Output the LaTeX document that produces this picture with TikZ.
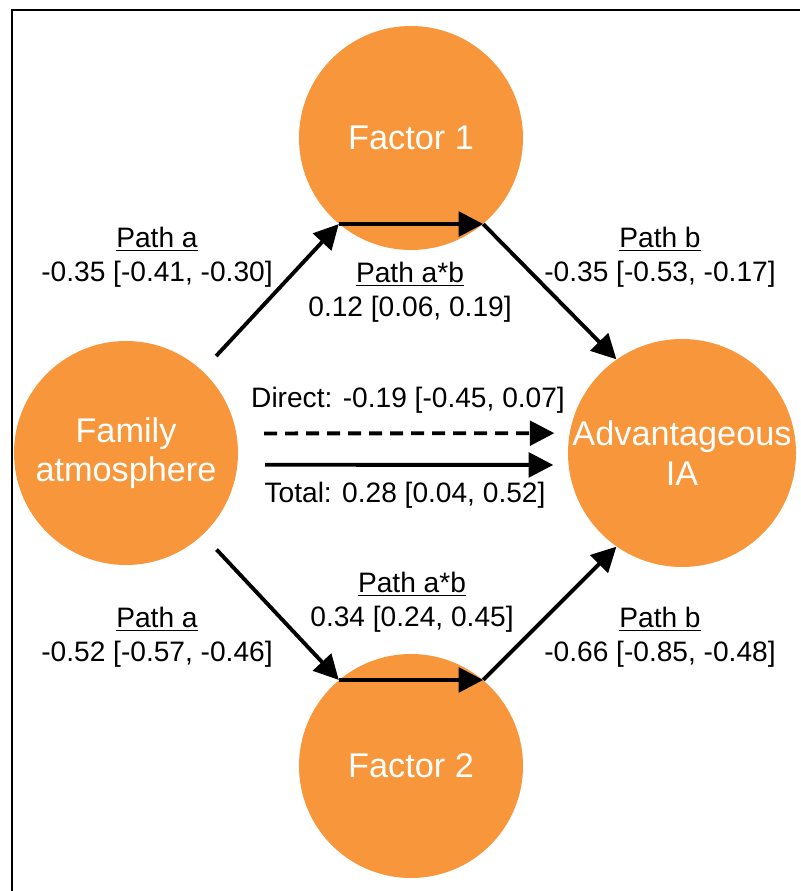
\documentclass[tikz,border=0pt]{standalone}
\usepackage{fontspec}
\setmainfont{Liberation Sans}
\usepackage{tikz}
\usetikzlibrary{arrows.meta}
\definecolor{factorOrange}{RGB}{247,150,58}

\begin{document}
\begin{tikzpicture}[
  factor/.style={circle, fill=factorOrange, minimum size=4.48cm, inner sep=0pt,
    text=white, align=center, font=\fontsize{19.5}{22.5}\selectfont},
  effect/.style={align=center, font=\fontsize{16}{19.5}\selectfont},
  arr/.style={-{Triangle[length=14pt,width=14pt]}, line width=2.2pt},
]

\useasboundingbox (0,0) rectangle (16,-17.82);

% frame (top and left only)
\draw[line width=1.6pt] (0.24,-17.82) -- (0.24,-0.2) -- (16,-0.2);

% factors
\node[factor] (fam) at (2.52,-9.06) {Family\\atmosphere};
\node[factor] (f1) at (8.22,-2.76) {Factor 1};
\node[factor] (f2) at (8.22,-15.32) {Factor 2};
\node[factor] (adv) at (13.64,-9.06) {Advantageous\\IA};


% upper path
\draw[arr, shorten <=0.4cm] (fam) -- (f1.-130);
\draw[arr] (f1.-130) -- (f1.-50);
\draw[arr] (f1.-50) -- (adv.125);

% lower path
\draw[arr, shorten <=0.4cm] (fam) -- (f2.130);
\draw[arr] (f2.130) -- (f2.50);
\draw[arr] (f2.50) -- (adv.-125);

% direct and total
\draw[arr, dash pattern=on 0.26cm off 0.16cm, shorten <=0.55cm, shorten >=0.3cm] (fam.10) -- (adv.170);
\draw[arr, shorten <=0.55cm, shorten >=0.3cm] (fam.-6) -- (adv.-174);

% labels
\node[effect] (pathA1) at (3.14,-5.14) {\underline{Path a}\\-0.35 [-0.41, -0.30]};
\node[effect] (pathAB1) at (8.2,-5.84) {\underline{Path a*b}\\0.12 [0.06, 0.19]};
\node[effect] (pathB1) at (13.2,-5.14) {\underline{Path b}\\-0.35 [-0.53, -0.17]};

\node[effect] (direct) at (8.16,-8.0) {Direct: -0.19 [-0.45, 0.07]};
\node[effect] (total) at (8.1,-9.9) {Total: 0.28 [0.04, 0.52]};

\node[effect] (pathAB2) at (8.24,-12.04) {\underline{Path a*b}\\0.34 [0.24, 0.45]};
\node[effect] (pathA2) at (3.14,-12.74) {\underline{Path a}\\-0.52 [-0.57, -0.46]};
\node[effect] (pathB2) at (13.2,-12.74) {\underline{Path b}\\-0.66 [-0.85, -0.48]};
\end{tikzpicture}
\end{document}
